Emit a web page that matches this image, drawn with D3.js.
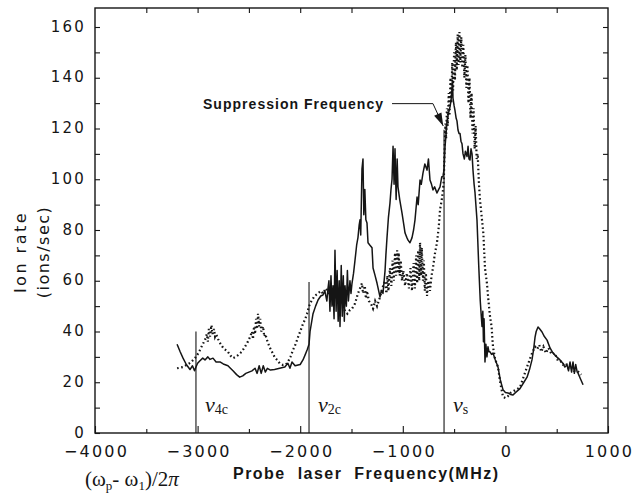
<!DOCTYPE html>
<html>
<head>
<meta charset="utf-8">
<script src="https://cdn.jsdelivr.net/npm/d3@7"></script>
<style>
  html, body { margin: 0; padding: 0; background: #fff; }
  svg { display: block; }
</style>
</head>
<body>
<svg id="chart" width="644" height="495"></svg>
<script>
// ---------------- data ----------------
const xTickValues = [-4000, -3000, -2000, -1000, 0, 1000];
const yTickValues = [0, 20, 40, 60, 80, 100, 120, 140, 160];

// solid trace: [probe frequency (MHz), ion rate (ions/sec)]
const solidSeries = [
  [-3200,35],[-3170,32],[-3142,29.5],[-3110,27],[-3074,25],[-3050,26.5],[-3030,24.5],[-3016,26],
  [-3000,27.5],[-2977,28.5],[-2950,29.5],[-2928,28.8],[-2900,30],[-2879,29],[-2850,29.5],[-2820,28],
  [-2782,28],[-2750,27.2],[-2704,26.5],[-2680,25.5],[-2655,24.5],[-2620,23],[-2590,22],[-2560,22.5],
  [-2530,23.5],[-2500,24],[-2470,24.5],[-2440,25.5],[-2420,23.5],[-2400,26.5],[-2380,23.5],[-2360,26.5],
  [-2340,24],[-2320,25.5],[-2290,24.8],[-2250,25],[-2200,25.5],[-2150,26],[-2120,27.5],[-2100,25.5],
  [-2080,28],[-2050,26.5],[-2000,27],[-1973,28.8],[-1950,31],[-1930,33],[-1914,35],[-1904,40],
  [-1875,47],[-1850,50],[-1826,52.4],[-1800,54],[-1778,54.4],[-1760,56],[-1740,52],[-1729,57],
  [-1720,60],[-1710,48],[-1700,62],[-1690,50],[-1680,58],[-1670,45],[-1661,72],[-1650,48],
  [-1640,64],[-1630,44],[-1620,60],[-1612,42],[-1600,66],[-1590,46],[-1580,62],[-1570,44],
  [-1563,58],[-1550,50],[-1540,64],[-1530,52],[-1515,60],[-1505,55],[-1495,59],[-1480,63],
  [-1466,68],[-1450,74],[-1437,77],[-1425,82],[-1417,84],[-1410,78],[-1398,104],[-1388,108],
  [-1380,86],[-1370,96],[-1360,84],[-1349,82.8],[-1339,75],[-1320,74],[-1300,73],[-1290,65],
  [-1270,62],[-1251,59],[-1235,56],[-1222,53.6],[-1210,56],[-1193,55],[-1173,64],[-1165,70],
  [-1154,77],[-1140,85],[-1125,90.6],[-1115,96],[-1105,100],[-1095,113],[-1085,98],[-1076,112],
  [-1065,92],[-1055,108],[-1047,97],[-1030,92],[-1008,86.7],[-990,82],[-978,78.8],[-960,77],
  [-949,76],[-930,75],[-910,77],[-895,80],[-881,84],[-861,93],[-850,90],[-832,99.7],
  [-820,98],[-803,102.5],[-785,106],[-764,103.6],[-750,108],[-735,99.7],[-720,98],[-706,95.8],
  [-690,97],[-667,94.6],[-650,96],[-637,97],[-620,101],[-608,101],[-598,104],[-588,113],
  [-578,118],[-569,123],[-555,126],[-540,128.5],[-530,131],[-520,136],[-515,139],[-511,132],
  [-500,129],[-491,127],[-480,124],[-472,123],[-462,119.4],[-452,118],[-442,118],[-433,115],
  [-423,114],[-413,110],[-400,108],[-390,111],[-374,109],[-364,113],[-355,108],[-345,107.6],
  [-335,112],[-325,110],[-316,103.6],[-305,98],[-296,94.6],[-277,84],[-260,66],[-245,52],
  [-235,46],[-228,42],[-220,48],[-214,36],[-208,45],[-199,28],[-190,35],[-180,30],
  [-170,34],[-160,32],[-150,32],[-135,31],[-121,31.5],[-100,29],[-72,26],[-50,21],
  [-23,17],[0,16],[25,15.8],[50,15.2],[74,15],[100,16],[142,17.5],[180,20],
  [211,22],[235,25],[259,28.8],[275,33],[289,37.8],[300,40],[318,41.8],[335,41],
  [357,39.8],[380,38],[406,36.6],[435,33.5],[464,31.5],[500,30],[532,28.8],[560,27.5],
  [580,26],[601,26.8],[615,24.5],[630,28],[645,24],[659,28],[672,23.5],[685,27],
  [700,24],[708,23.6],[730,21.5],[757,19]
];

// dotted trace: [probe frequency (MHz), ion rate (ions/sec)]
const dottedSeries = [
  [-3200,25.5],[-3142,26],[-3100,27],[-3074,27.6],[-3050,28.5],[-3025,29.5],[-3000,31],[-2977,32.7],
  [-2950,35],[-2928,36.6],[-2910,39],[-2900,36],[-2890,41],[-2879,38],[-2865,42.5],[-2855,39],
  [-2840,41],[-2830,38],[-2820,39],[-2800,37],[-2782,35.5],[-2750,33.5],[-2704,32],[-2680,30.5],
  [-2655,29.5],[-2630,30],[-2606,30.7],[-2570,32],[-2538,34],[-2510,36],[-2489,37.8],[-2470,40],
  [-2460,37],[-2450,42],[-2440,39],[-2430,45],[-2420,41],[-2411,47],[-2400,42],[-2390,45],
  [-2380,40],[-2362,42],[-2350,38],[-2340,39],[-2323,36.6],[-2300,34],[-2275,32],[-2250,30],
  [-2226,28.8],[-2200,27.5],[-2168,26.8],[-2140,27],[-2119,28],[-2095,30],[-2070,32.7],[-2045,35],
  [-2021,37.8],[-2000,40],[-1973,43],[-1950,45],[-1934,47],[-1914,50],[-1890,52],[-1860,54],
  [-1826,55],[-1800,56],[-1778,55],[-1750,57],[-1720,55],[-1700,54],[-1680,57],[-1650,53],
  [-1630,56],[-1600,52],[-1580,50],[-1563,48],[-1540,47],[-1515,48.5],[-1495,49],[-1466,51],
  [-1437,55],[-1417,57],[-1398,59],[-1388,55],[-1370,58],[-1360,53],[-1349,56],[-1330,52],
  [-1310,51],[-1290,49],[-1270,52],[-1251,50],[-1222,53.6],[-1200,57],[-1173,60],[-1160,55],
  [-1150,62],[-1140,56],[-1125,65],[-1112,58],[-1100,68],[-1088,60],[-1076,71],[-1065,62],
  [-1055,72],[-1047,63],[-1040,71],[-1030,62],[-1020,68],[-1008,60],[-995,64],[-978,58],
  [-960,63],[-940,57],[-925,65],[-910,56],[-895,67],[-882,57],[-870,70],[-860,59],
  [-850,72],[-840,60],[-832,75],[-822,62],[-815,73],[-803,60],[-795,68],[-785,56],
  [-775,63],[-764,54],[-750,60],[-735,56],[-720,62],[-706,65],[-690,70],[-667,75],[-650,81],
  [-637,88],[-620,92],[-608,95.8],[-600,100],[-595,108],[-590,115],[-585,122],[-578,116],
  [-570,128],[-562,121],[-552,134],[-545,125],[-535,140],[-527,130],[-518,146],[-510,135],
  [-500,150],[-492,139],[-482,154],[-474,143],[-465,157],[-457,145],[-448,158],[-440,146],
  [-430,156],[-420,144],[-410,153],[-400,140],[-390,149],[-380,136],[-370,145],[-360,130],
  [-350,140],[-340,124],[-330,134],[-320,118],[-310,128],[-300,112],[-290,121],[-280,108],
  [-270,110],[-260,100],[-250,93],[-238,88],[-228,84],[-215,78.8],[-199,65],[-180,59],
  [-165,52],[-150,46],[-135,42],[-121,34],[-100,29],[-72,26],[-50,19.7],[-23,14.2],
  [0,13.8],[25,14.5],[50,15.8],[100,17],[142,18],[190,23.6],[235,28.8],[265,32],
  [289,34],[310,33],[330,34.7],[350,32],[370,34],[395,31.5],[420,33.5],[450,31],
  [480,31.5],[505,29],[530,28.8],[560,27],[590,27.6],[615,25.5],[640,26],[670,24.5],
  [700,24.5],[740,23]
];

// resonance markers
const markerFreq = [-3016, -1914, -598];
const markerTop = [40, 59.5, 119.5];
const markerSymbol = ["ν", "ν", "ν"];
const markerSub = ["4c", "2c", "s"];

// ---------------- drawing ----------------
const svg = d3.select("#chart");
const x = d3.scaleLinear().domain([-4000, 1000]).range([95, 608]);
const y = d3.scaleLinear().domain([0, 160]).range([433, 27]);
const frameTop = 8;
const ink = "#151515";
const tickFont = "DejaVu Sans, Verdana, sans-serif";
const fmt = d3.format("d");

// frame
svg.append("rect")
  .attr("x", x(-4000)).attr("y", frameTop)
  .attr("width", x(1000) - x(-4000)).attr("height", y(0) - frameTop)
  .attr("fill", "none").attr("stroke", ink).attr("stroke-width", 1.4);

// bottom axis: major (labelled) + minor ticks, inward
const bottomMajor = svg.append("g").attr("transform", `translate(0,${y(0)})`)
  .call(d3.axisBottom(x).tickValues(xTickValues).tickSize(-7).tickPadding(12.5).tickFormat(fmt));
const bottomMinor = svg.append("g").attr("transform", `translate(0,${y(0)})`)
  .call(d3.axisBottom(x).tickValues(d3.range(-3500, 1000, 1000)).tickSize(-4).tickFormat(""));
// top axis ticks
const topTicks = svg.append("g").attr("transform", `translate(0,${frameTop})`)
  .call(d3.axisTop(x).tickValues(d3.range(-3500, 1000, 500)).tickSize(-5).tickFormat(""));
// left axis
const leftMajor = svg.append("g").attr("transform", `translate(${x(-4000)},0)`)
  .call(d3.axisLeft(y).tickValues(yTickValues).tickSize(-5).tickPadding(11).tickFormat(fmt));
const leftMinor = svg.append("g").attr("transform", `translate(${x(-4000)},0)`)
  .call(d3.axisLeft(y).tickValues(d3.range(10, 161, 20)).tickSize(-5).tickFormat(""));
// right axis ticks
const rightTicks = svg.append("g").attr("transform", `translate(${x(1000)},0)`)
  .call(d3.axisRight(y).tickValues(d3.range(10, 161, 10)).tickSize(-5).tickFormat(""));

[bottomMajor, bottomMinor, topTicks, leftMajor, leftMinor, rightTicks].forEach(g => {
  g.select(".domain").remove();
  g.selectAll(".tick line").attr("stroke", ink).attr("stroke-width", 1.1);
  g.selectAll(".tick text")
    .attr("fill", ink)
    .style("font-family", tickFont)
    .style("font-size", "15px")
    .style("letter-spacing", "2.2px");
});
leftMajor.selectAll(".tick text").attr("dx", "2px").attr("dy", "0.28em");
bottomMajor.selectAll(".tick text").attr("dx", "1px").style("font-size", "16px");

// marker lines
markerFreq.forEach((f, i) => {
  svg.append("line")
    .attr("x1", x(f)).attr("x2", x(f))
    .attr("y1", y(0)).attr("y2", y(markerTop[i]))
    .attr("stroke", ink).attr("stroke-width", 1.1);
  const t = svg.append("text")
    .attr("x", x(f) + 9).attr("y", 412)
    .attr("fill", ink)
    .style("font-family", "Liberation Serif, Times New Roman, serif");
  t.append("tspan").text(markerSymbol[i]).style("font-size", "22px").style("font-style", "italic");
  t.append("tspan").text(markerSub[i]).style("font-size", "14px").attr("dy", "2");
});

// traces
const line = d3.line().x(d => x(d[0])).y(d => y(d[1]));
svg.append("path").datum(dottedSeries)
  .attr("d", line)
  .attr("fill", "none").attr("stroke", ink)
  .attr("stroke-width", 2.2)
  .attr("stroke-dasharray", "1.6 2.6");
svg.append("path").datum(solidSeries)
  .attr("d", line)
  .attr("fill", "none").attr("stroke", ink)
  .attr("stroke-width", 1.5)
  .attr("stroke-linejoin", "round");

// annotation: Suppression Frequency
svg.append("text")
  .attr("x", 203).attr("y", 109)
  .attr("fill", ink)
  .attr("textLength", 180).attr("lengthAdjust", "spacing")
  .style("font-family", "Liberation Sans, Arial, sans-serif")
  .style("font-weight", "bold")
  .style("font-size", "14px")
  .text("Suppression Frequency");
const tip = [x(-606), y(121)];
const elbow = [x(-706), y(129.8)];
const start = [x(-1105), y(129.8)];
svg.append("path")
  .attr("d", `M${start[0]},${start[1]}L${elbow[0]},${elbow[1]}L${tip[0]},${tip[1]}`)
  .attr("fill", "none").attr("stroke", ink).attr("stroke-width", 1);
{
  const ang = Math.atan2(tip[1] - elbow[1], tip[0] - elbow[0]);
  const L = 13, W = 4;
  const bx = tip[0] - L * Math.cos(ang), by = tip[1] - L * Math.sin(ang);
  const px = -Math.sin(ang) * W, py = Math.cos(ang) * W;
  svg.append("path")
    .attr("d", `M${tip[0]},${tip[1]}L${bx + px},${by + py}L${bx - px},${by - py}Z`)
    .attr("fill", ink);
}

// axis titles
const yTitle = svg.append("g").attr("transform", "translate(0,252)");
yTitle.append("text")
  .attr("transform", "translate(26,0) rotate(-90)")
  .attr("text-anchor", "middle")
  .attr("fill", ink)
  .style("font-family", tickFont).style("font-size", "16px").style("letter-spacing", "2.5px")
  .text("Ion rate");
yTitle.append("text")
  .attr("transform", "translate(49,0) rotate(-90)")
  .attr("text-anchor", "middle")
  .attr("fill", ink)
  .style("font-family", tickFont).style("font-size", "16px").style("letter-spacing", "1.5px")
  .text("(ions/sec)");

svg.append("text")
  .attr("x", 233).attr("y", 479)
  .attr("fill", ink)
  .attr("textLength", 265).attr("lengthAdjust", "spacing")
  .style("font-family", "Liberation Sans, Arial, sans-serif")
  .style("font-weight", "bold")
  .style("font-size", "16px")
  .style("word-spacing", "6px")
  .text("Probe laser Frequency(MHz)");

const omega = svg.append("text")
  .attr("x", 85).attr("y", 486)
  .attr("fill", ink)
  .style("font-family", "Liberation Serif, Times New Roman, serif")
  .style("font-size", "21px");
omega.append("tspan").text("(ω");
omega.append("tspan").text("p").style("font-size", "13px").attr("dy", 4);
omega.append("tspan").text("- ω").attr("dy", -4);
omega.append("tspan").text("1").style("font-size", "13px").attr("dy", 4);
omega.append("tspan").text(")/2").attr("dy", -4);
omega.append("tspan").text("π").style("font-style", "italic");
</script>
</body>
</html>
